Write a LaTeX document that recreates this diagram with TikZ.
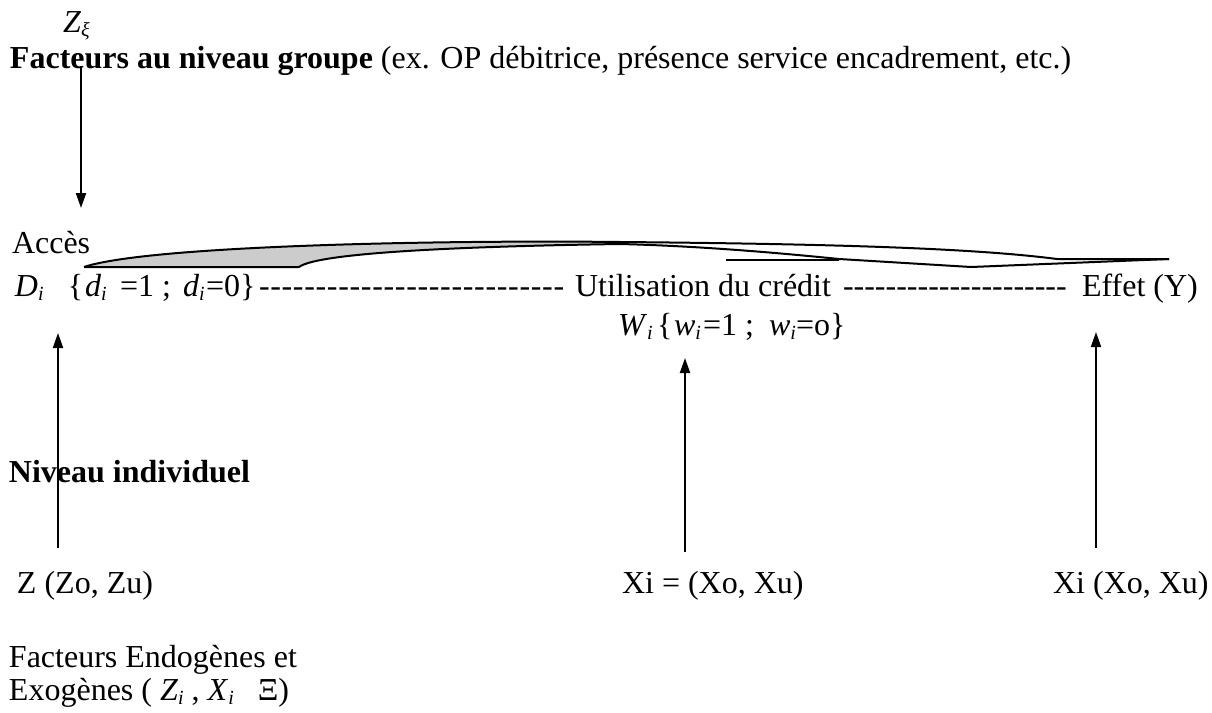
\documentclass[tikz,border=0pt]{standalone}
\usepackage{fontspec}
\setmainfont{Liberation Serif}[Ligatures=TeXOff]
\usetikzlibrary{arrows.meta}
\newcommand\sbi[1]{\raisebox{-0.3ex}{\fontsize{10}{10}\selectfont\itshape #1}}
\begin{document}
\begin{tikzpicture}[x=0.5pt,y=-0.5pt,
  txt/.style={anchor=base west, inner sep=0pt, outer sep=0pt, font=\fontsize{16}{19}\selectfont},
  arr/.style={line width=1pt, -{Triangle[length=7.5pt,width=5pt]}},
  band/.style={line width=1pt, line join=round}]
\useasboundingbox (0,0) rectangle (1212,713);
% texts
\node[txt] (zxi) at (63,32) {\textit{Z}\sbi{ξ}};
\node[txt] (grp) at (10,68) {\textbf{Facteurs au niveau groupe} (ex. OP débitrice, présence service encadrement, etc.)};
\node[txt] (acc) at (12,253) {Accès};
\node[txt] (D) at (15,296) {\textit{D}\sbi{i}};
\node[txt] (br1) at (68,296) {\{};
\node[txt] (d1) at (85,296) {\textit{d}\sbi{i}};
\node[txt] (eq1) at (120,296) {=1 ;};
\node[txt] (d2) at (183,296) {\textit{d}\sbi{i}};
\node[txt] (eq2) at (206,296) {=0\}};
\node[txt] (dash1) at (259,296) {\addfontfeature{LetterSpace=2.1}---------------------------};
\node[txt] (util) at (575,296) {Utilisation du crédit};
\node[txt] (dash2) at (843,296) {---------------------};
\node[txt] (eff) at (1082,296) {Effet (Y)};
\node[txt] (W) at (618,335) {\textit{W}\sbi{i}};
\node[txt] (br2) at (657,335) {\{};
\node[txt] (w1) at (674,335) {\textit{w}\sbi{i}};
\node[txt] (eq3) at (703,335) {=1 ;};
\node[txt] (w2) at (769,335) {\textit{w}\sbi{i}};
\node[txt] (eq4) at (796,335) {=o\}};
\node[txt] (niv) at (9,482) {\textbf{Niveau individuel}};
\node[txt] (zz) at (17,593) {Z (Zo, Zu)};
\node[txt] (xa) at (622,593) {Xi = (Xo, Xu)};
\node[txt] (xb) at (1053,593) {Xi (Xo, Xu)};
\node[txt] (fe1) at (9,667) {Facteurs Endogènes et};
\node[txt] (fe2) at (9,700) {Exogènes ( \textit{Z}\sbi{i} , \textit{X}\sbi{i} \ \ Ξ)};
% arrows
\coordinate (a1s) at (81,66);   \coordinate (a1e) at (81,208);
\coordinate (a2s) at (58,548);  \coordinate (a2e) at (58,333);
\coordinate (a3s) at (685,552); \coordinate (a3e) at (685,358);
\coordinate (a4s) at (1096,548); \coordinate (a4e) at (1096,332);
\draw[arr] (a1s) -- (a1e);
\draw[arr] (a2s) -- (a2e);
\draw[arr] (a3s) -- (a3e);
\draw[arr] (a4s) -- (a4e);
% curved band
\fill[gray!40] (84,267) .. controls (150,245) and (450,240) .. (620,242)
  -- (620,244) .. controls (420,247) and (315,255) .. (299,267) -- cycle;
\draw[band] (84,267) .. controls (150,245) and (450,240) .. (620,242)
  .. controls (850,244) and (980,249) .. (1057,259) -- (1169,259);
\draw[band] (84,267) -- (299,267) .. controls (315,255) and (420,247) .. (620,244)
  .. controls (700,246) and (780,253) .. (839,259) -- (971,267) -- (1169,259);
\draw[band] (726,260) -- (839,260);
\end{tikzpicture}
\end{document}
